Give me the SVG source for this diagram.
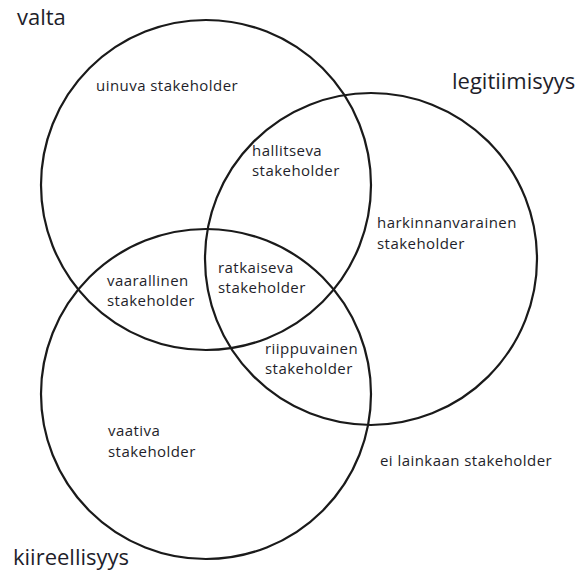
<svg xmlns="http://www.w3.org/2000/svg" width="578" height="574" viewBox="0 0 578 574">
<style>
.c{fill:none;stroke:#1a1a1a;stroke-width:2.2}
.t{font-family:"Open Sans","Liberation Sans",sans-serif;font-size:15px;letter-spacing:0.45px;fill:#1e1e2a}
.h{font-family:"Open Sans","Liberation Sans",sans-serif;font-size:22px;fill:#1e1e2a}
</style>
<rect width="578" height="574" fill="#fff"/>
<g id="connectors">
<circle id="c-valta" class="c" cx="206" cy="185" r="165"/>
<circle id="c-legit" class="c" cx="371" cy="259" r="166"/>
<circle id="c-kiire" class="c" cx="206" cy="394" r="165"/>
</g>
<g id="valta"><text class="h" x="17" y="25">valta</text></g>
<g id="legitiimisyys"><text class="h" x="452" y="89">legitiimisyys</text></g>
<g id="kiireellisyys"><text class="h" x="13" y="565">kiireellisyys</text></g>
<g id="uinuva"><text class="t" x="96" y="91">uinuva stakeholder</text></g>
<g id="hallitseva"><text class="t" x="252" y="156">hallitseva</text><text class="t" x="252" y="176">stakeholder</text></g>
<g id="harkinnanvarainen"><text class="t" x="377" y="228">harkinnanvarainen</text><text class="t" x="377" y="249">stakeholder</text></g>
<g id="vaarallinen"><text class="t" x="107" y="286">vaarallinen</text><text class="t" x="107" y="306">stakeholder</text></g>
<g id="ratkaiseva"><text class="t" x="218" y="273">ratkaiseva</text><text class="t" x="218" y="293">stakeholder</text></g>
<g id="riippuvainen"><text class="t" x="265" y="354">riippuvainen</text><text class="t" x="265" y="374">stakeholder</text></g>
<g id="vaativa"><text class="t" x="108" y="436">vaativa</text><text class="t" x="108" y="457">stakeholder</text></g>
<g id="ei-lainkaan"><text class="t" x="380" y="466">ei lainkaan stakeholder</text></g>
</svg>
